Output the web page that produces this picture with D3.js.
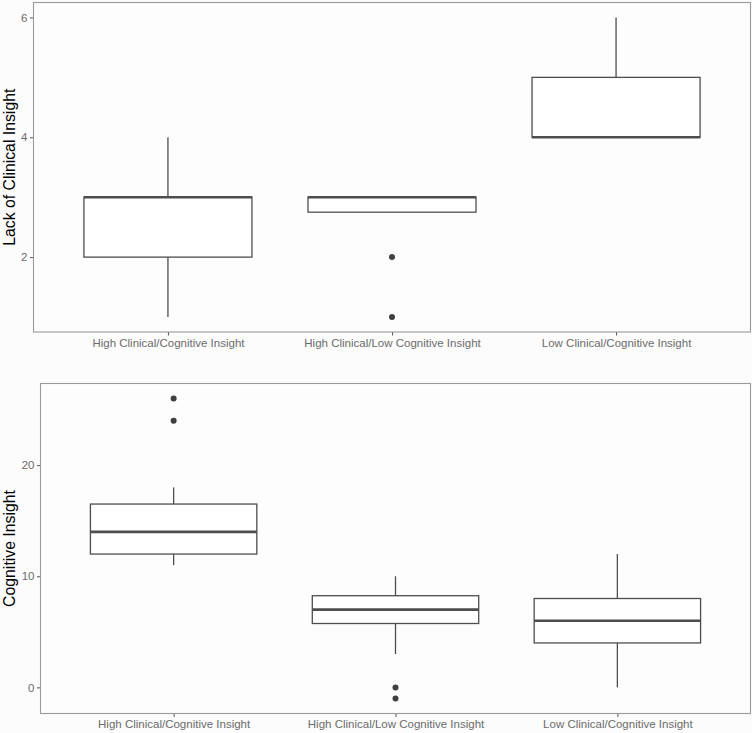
<!DOCTYPE html>
<html>
<head>
<meta charset="utf-8">
<script src="https://cdn.jsdelivr.net/npm/d3@7"></script>
<style>
  html, body { margin: 0; padding: 0; background: #fcfcfc; }
  svg { display: block; }
</style>
</head>
<body>
<svg id="chart" width="752" height="733"></svg>
<script>
const categories = ["High Clinical/Cognitive Insight", "High Clinical/Low Cognitive Insight", "Low Clinical/Cognitive Insight"];

// Panel 1: Lack of Clinical Insight  [lowerWhisker, q1, median, q3, upperWhisker]
const clinicalStats = [
  [1, 2, 3, 3, 4],
  [2.75, 2.75, 3, 3, 3],
  [4, 4, 4, 5, 6]
];
const clinicalOutliers = [[], [2, 1], []];
const clinicalTicks = [2, 4, 6];

// Panel 2: Cognitive Insight
const cognitiveStats = [
  [11, 12, 14, 16.5, 18],
  [3, 5.75, 7, 8.25, 10],
  [0, 4, 6, 8, 12]
];
const cognitiveOutliers = [[26, 24], [0, -1], []];
const cognitiveTicks = [0, 10, 20];

const svg = d3.select("#chart");
const FONT = "'Liberation Sans', Arial, Helvetica, sans-serif";
const boxColor = "#4d4d4d";
const tickTextColor = "#6b6b6b";

function drawPanel(opts) {
  const { left, right, top, bottom, stats, outliers, ticks, title, domain } = opts;
  const g = svg.append("g");

  // ggplot discrete expand 0.6: range 0.4..3.6
  const xs = d3.scaleLinear().domain([0.4, 3.6]).range([left, right]);
  const xc = c => xs(categories.indexOf(c) + 1);
  const bw = (xs(1.75) - xs(1)); // 0.75 width
  const y = d3.scaleLinear().domain(domain).range([bottom, top]);

  g.append("rect").attr("x", left).attr("y", top).attr("width", right - left).attr("height", bottom - top)
    .attr("fill", "#fdfdfd").attr("stroke", "none");

  const yAxis = d3.axisLeft(y).tickValues(ticks).tickSize(3.5).tickPadding(2.5).tickFormat(d3.format("d"));
  const ya = g.append("g").attr("transform", `translate(${left},0)`).call(yAxis);
  ya.select(".domain").remove();
  ya.selectAll(".tick line").attr("stroke", "#555").attr("stroke-width", 1);
  ya.selectAll(".tick text").attr("fill", tickTextColor).style("font-family", FONT).style("font-size", "11.5px");

  const xAxis = d3.axisBottom(xs).tickValues([1, 2, 3]).tickSize(3.5).tickPadding(3).tickFormat(i => categories[i - 1]);
  const xa = g.append("g").attr("transform", `translate(0,${bottom})`).call(xAxis);
  xa.select(".domain").remove();
  xa.selectAll(".tick line").attr("stroke", "#555").attr("stroke-width", 1);
  xa.selectAll(".tick text").attr("fill", tickTextColor).style("font-family", FONT).style("font-size", "11.5px");

  categories.forEach((c, i) => {
    const [lw, q1, med, q3, uw] = stats[i];
    const cx = xc(c);
    const bg = g.append("g");
    bg.append("line").attr("x1", cx).attr("x2", cx).attr("y1", y(uw)).attr("y2", y(q3))
      .attr("stroke", boxColor).attr("stroke-width", 1.3);
    bg.append("line").attr("x1", cx).attr("x2", cx).attr("y1", y(q1)).attr("y2", y(lw))
      .attr("stroke", boxColor).attr("stroke-width", 1.3);
    bg.append("rect").attr("x", cx - bw / 2).attr("y", y(q3)).attr("width", bw).attr("height", y(q1) - y(q3))
      .attr("fill", "#ffffff").attr("stroke", boxColor).attr("stroke-width", 1.3);
    bg.append("line").attr("x1", cx - bw / 2).attr("x2", cx + bw / 2).attr("y1", y(med)).attr("y2", y(med))
      .attr("stroke", boxColor).attr("stroke-width", 2.6);
    outliers[i].forEach(v => {
      bg.append("circle").attr("cx", cx).attr("cy", y(v)).attr("r", 3).attr("fill", "#3f3f3f");
    });
  });

  g.append("rect").attr("x", left).attr("y", top).attr("width", right - left).attr("height", bottom - top)
    .attr("fill", "none").attr("stroke", "#9a9a9a").attr("stroke-width", 1.1);

  g.append("text").attr("transform", `translate(9,${(top + bottom) / 2}) rotate(-90)`)
    .attr("text-anchor", "middle").attr("dy", "0.35em")
    .style("font-family", FONT).style("font-size", "15.8px").attr("fill", "#000")
    .text(title);
}

drawPanel({ left: 33.5, right: 750.5, top: 2.5, bottom: 332, stats: clinicalStats, outliers: clinicalOutliers,
  ticks: clinicalTicks, title: "Lack of Clinical Insight", domain: [0.75, 6.25] });
drawPanel({ left: 40.5, right: 750.5, top: 383.5, bottom: 713.5, stats: cognitiveStats, outliers: cognitiveOutliers,
  ticks: cognitiveTicks, title: "Cognitive Insight", domain: [-2.35, 27.35] });
</script>
</body>
</html>
